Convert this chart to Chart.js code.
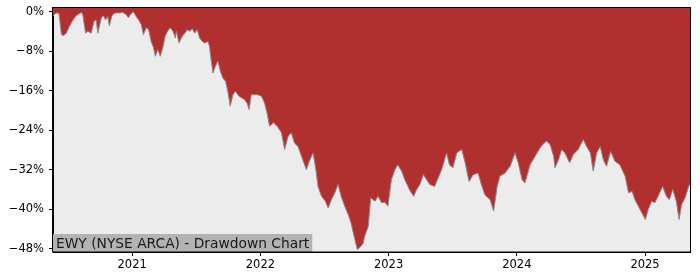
<!DOCTYPE html>
<html lang="en">
<head>
    <meta charset="UTF-8">
    <title>EWY Drawdown Chart</title>
    <style>
        html, body { margin: 0; padding: 0; background: #fff; }
        #wrap { width: 700px; height: 280px; }
    </style>
</head>
<body>
    <div id="wrap"><canvas id="ddChart" width="700" height="280"></canvas></div>

    <script src="https://cdn.jsdelivr.net/npm/chart.js"></script>
    <script>
        // trading dates (roughly weekly)
        const dates = [
            '2020-05-20','2020-05-29','2020-06-06','2020-06-13','2020-06-19','2020-06-27','2020-07-06','2020-07-14',
            '2020-07-20','2020-07-30','2020-08-09','2020-08-13','2020-08-21','2020-08-27','2020-09-06','2020-09-14',
            '2020-09-20','2020-09-25','2020-10-05','2020-10-11','2020-10-17','2020-10-23','2020-10-28','2020-11-04',
            '2020-11-12','2020-11-26','2020-12-05','2020-12-15','2020-12-21','2020-12-29','2021-01-05','2021-01-12',
            '2021-01-20','2021-01-27','2021-02-02','2021-02-10','2021-02-17','2021-02-24','2021-03-03','2021-03-08',
            '2021-03-15','2021-03-22','2021-03-29','2021-04-05','2021-04-12','2021-04-19','2021-04-27','2021-05-04',
            '2021-05-07','2021-05-14','2021-05-24','2021-05-31','2021-06-07','2021-06-14','2021-06-21','2021-06-28',
            '2021-07-05','2021-07-12','2021-07-20','2021-07-26','2021-08-05','2021-08-09','2021-08-13','2021-08-19',
            '2021-08-26','2021-09-02','2021-09-09','2021-09-16','2021-09-24','2021-10-01','2021-10-07','2021-10-15',
            '2021-10-22','2021-11-01','2021-11-08','2021-11-17','2021-11-24','2021-11-30','2021-12-06','2021-12-16',
            '2021-12-24','2022-01-04','2022-01-13','2022-01-21','2022-01-27','2022-02-07','2022-02-18','2022-03-02',
            '2022-03-11','2022-03-21','2022-03-30','2022-04-08','2022-04-18','2022-04-28','2022-05-12','2022-05-20',
            '2022-05-31','2022-06-08','2022-06-14','2022-06-24','2022-07-05','2022-07-13','2022-07-22','2022-08-01',
            '2022-08-10','2022-08-19','2022-08-29','2022-09-08','2022-09-16','2022-09-27','2022-10-04','2022-10-11',
            '2022-10-20','2022-10-25','2022-11-04','2022-11-11','2022-11-23','2022-12-02','2022-12-12','2022-12-21',
            '2022-12-30','2023-01-09','2023-01-19','2023-01-27','2023-02-07','2023-02-16','2023-03-01','2023-03-13',
            '2023-03-22','2023-03-31','2023-04-10','2023-04-19','2023-04-28','2023-05-12','2023-05-22','2023-06-01',
            '2023-06-15','2023-06-23','2023-07-03','2023-07-14','2023-07-28','2023-08-07','2023-08-18','2023-08-30',
            '2023-09-13','2023-09-22','2023-10-02','2023-10-17','2023-10-27','2023-11-06','2023-11-14','2023-11-28',
            '2023-12-13','2023-12-27','2024-01-05','2024-01-16','2024-01-24','2024-02-08','2024-02-22','2024-03-07',
            '2024-03-15','2024-03-26','2024-04-05','2024-04-15','2024-04-19','2024-04-29','2024-05-08','2024-05-17',
            '2024-05-31','2024-06-10','2024-06-24','2024-07-09','2024-07-18','2024-07-29','2024-08-06','2024-08-16',
            '2024-08-26','2024-09-04','2024-09-13','2024-09-25','2024-10-07','2024-10-21','2024-11-05','2024-11-15',
            '2024-11-25','2024-12-03','2024-12-13','2024-12-20','2025-01-02','2025-01-10','2025-01-20','2025-01-29',
            '2025-02-07','2025-02-20','2025-03-03','2025-03-11','2025-03-21','2025-03-31','2025-04-08','2025-04-15',
            '2025-04-25','2025-05-05','2025-05-09'
        ];

        // drawdown from running peak, in percent
        const drawdown = [
            -0.8, -0.2, -0.3, -4.6, -4.8, -4.3, -2.9, -1.9,
            -1.2, -0.5, -0.1, -0.5, -4.3, -3.9, -4.3, -1.9,
            -1.6, -4.3, -1.2, -0.8, -1.6, -0.9, -2.8, -0.8,
            -0.2, -0.2, -0.1, -0.5, -1.2, -0.3, 0.0, -0.9,
            -1.7, -2.6, -4.6, -3.2, -3.6, -6.0, -7.3, -9.0,
            -7.6, -9.0, -7.3, -4.9, -3.9, -3.2, -3.9, -5.3,
            -3.9, -6.3, -4.9, -4.3, -3.6, -3.9, -3.4, -4.3,
            -3.6, -5.3, -6.0, -6.3, -6.0, -7.0, -9.3, -12.4,
            -11.0, -10.0, -12.0, -13.4, -14.1, -16.4, -19.1, -16.8,
            -16.1, -17.1, -17.4, -17.8, -18.5, -19.8, -16.8, -16.8,
            -16.8, -17.1, -18.5, -20.8, -23.2, -22.5, -23.2, -24.5,
            -27.9, -25.2, -24.5, -26.6, -27.3, -29.3, -32.0, -30.3,
            -28.6, -32.0, -35.4, -37.4, -38.4, -39.8, -38.1, -36.7,
            -35.0, -37.4, -39.4, -41.1, -42.8, -46.2, -48.2, -47.8,
            -47.0, -45.5, -43.5, -37.7, -38.4, -37.4, -38.7, -38.6,
            -39.4, -34.0, -32.0, -31.0, -32.3, -34.0, -36.0, -37.4,
            -36.0, -35.0, -33.0, -34.0, -35.0, -35.4, -33.7, -32.0,
            -28.6, -31.0, -31.6, -28.6, -27.9, -30.6, -34.4, -33.0,
            -32.7, -35.0, -37.1, -38.1, -40.4, -35.4, -33.3, -32.7,
            -31.3, -28.6, -30.6, -34.0, -34.7, -31.0, -29.3, -27.6,
            -26.9, -26.2, -26.9, -29.3, -31.6, -30.0, -27.9, -28.6,
            -30.6, -28.9, -27.9, -25.9, -27.3, -28.6, -32.3, -28.6,
            -27.3, -30.0, -31.3, -28.3, -30.3, -31.0, -33.3, -36.7,
            -36.4, -38.1, -39.4, -40.4, -42.1, -40.1, -38.4, -38.7,
            -37.4, -35.4, -37.4, -38.1, -36.0, -38.4, -42.1, -39.1,
            -37.7, -35.4, -35.0
        ];

        const yearTicks = [2021, 2022, 2023, 2024, 2025];
        const pctTicks = [0, -8, -16, -24, -32, -40, -48];
        const chartTitle = 'EWY (NYSE ARCA) - Drawdown Chart';

        // date string -> fractional year so a plain linear axis can be used
        function toYear(s) {
            const d = new Date(s + 'T00:00:00Z');
            const y = d.getUTCFullYear();
            const start = Date.UTC(y, 0, 1);
            const end = Date.UTC(y + 1, 0, 1);
            return y + (d.getTime() - start) / (end - start);
        }

        const points = dates.map((d, i) => ({ x: toYear(d), y: drawdown[i] }));

        const frame = {
            id: 'frame',
            beforeDraw(chart) {
                const a = chart.chartArea;
                const ctx = chart.ctx;
                ctx.save();
                ctx.fillStyle = '#ececec';
                ctx.fillRect(a.left, a.top, a.right - a.left, a.bottom - a.top);
                ctx.restore();
            },
            afterDraw(chart) {
                const a = chart.chartArea;
                const ctx = chart.ctx;
                ctx.save();
                // caption box, bottom left
                ctx.font = '13.8px "DejaVu Sans"';
                const w = ctx.measureText(chartTitle).width;
                ctx.fillStyle = '#b3b3b3';
                ctx.fillRect(a.left, a.bottom - 18, w + 6, 18);
                ctx.fillStyle = '#1a1a1a';
                ctx.textBaseline = 'alphabetic';
                ctx.fillText(chartTitle, a.left + 3, a.bottom - 4.5);
                // box around plot
                ctx.strokeStyle = '#000';
                ctx.lineWidth = 1;
                ctx.strokeRect(Math.round(a.left) - 0.5, Math.round(a.top) + 0.5,
                    Math.round(a.right - a.left) + 1, Math.round(a.bottom - a.top) - 0.5);
                ctx.restore();
            }
        };

        const ctx = document.getElementById('ddChart').getContext('2d');
        new Chart(ctx, {
            type: 'line',
            data: {
                datasets: [{
                    data: points,
                    fill: 'end',
                    backgroundColor: '#b03030',
                    borderColor: '#8a8a8a',
                    borderWidth: 1,
                    pointRadius: 0,
                    tension: 0
                }]
            },
            options: {
                responsive: false,
                animation: false,
                events: [],
                layout: { padding: { top: 7, right: 10, left: 0, bottom: 0 } },
                plugins: {
                    legend: { display: false },
                    tooltip: { enabled: false }
                },
                scales: {
                    x: {
                        type: 'linear',
                        min: points[0].x,
                        max: points[points.length - 1].x,
                        afterBuildTicks: axis => { axis.ticks = yearTicks.map(v => ({ value: v })); },
                        afterFit: axis => {
                            axis.height = 28;
                            axis.paddingLeft = 0;
                            axis.paddingRight = 0;
                        },
                        grid: { drawOnChartArea: false, drawTicks: true, tickLength: 4, color: '#000' },
                        border: { display: true, color: '#000' },
                        ticks: {
                            color: '#000',
                            font: { family: 'DejaVu Sans', size: 11.5 },
                            padding: 2,
                            maxRotation: 0,
                            autoSkip: false,
                            callback: v => String(v)
                        }
                    },
                    y: {
                        min: -48.7,
                        max: 1.0,
                        afterBuildTicks: axis => { axis.ticks = pctTicks.map(v => ({ value: v })); },
                        afterFit: axis => {
                            axis.width = 53;
                            axis.paddingTop = 0;
                            axis.paddingBottom = 0;
                        },
                        grid: { drawOnChartArea: false, drawTicks: true, tickLength: 4, color: '#000' },
                        border: { display: true, color: '#000' },
                        ticks: {
                            color: '#000',
                            font: { family: 'DejaVu Sans', size: 11.5 },
                            padding: 5,
                            autoSkip: false,
                            callback: v => (v < 0 ? '\u2212' + Math.abs(v) : v) + '%'
                        }
                    }
                }
            },
            plugins: [frame]
        });
    </script>
</body>
</html>
